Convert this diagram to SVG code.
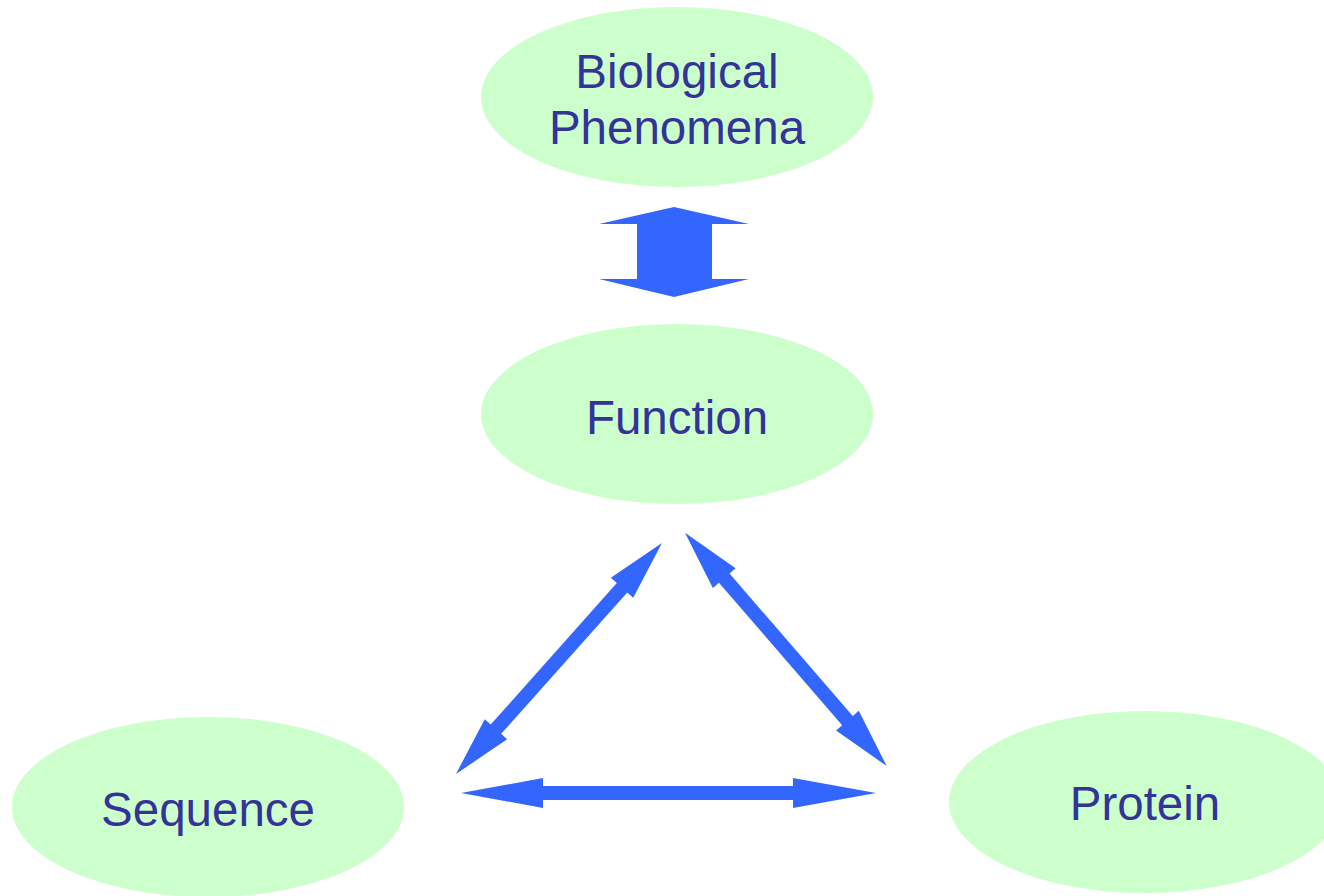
<svg xmlns="http://www.w3.org/2000/svg" width="1324" height="896" viewBox="0 0 1324 896">
<style>
.node ellipse{fill:#CCFFCC;stroke:none}
.node text{font-family:"Liberation Sans",Arial,sans-serif;font-size:47.5px;fill:#333399;text-anchor:middle}
.arrow{fill:#3366FF;stroke:none}
</style>
<defs>
<polygon id="dbl309" points="0,0 60,-15 60,-7 249.5,-7 249.5,-15 309.5,0 249.5,15 249.5,7 60,7 60,15"/>
<polygon id="dbl308" points="0,0 60,-15 60,-7 248.4,-7 248.4,-15 308.4,0 248.4,15 248.4,7 60,7 60,15"/>
</defs>
<rect width="1324" height="896" fill="#FFFFFF"/>
<g id="bio" class="node">
<ellipse cx="677" cy="97" rx="196" ry="90"/>
<text x="677" y="88">Biological</text>
<text x="677" y="144">Phenomena</text>
</g>
<g id="function" class="node">
<ellipse cx="677" cy="414" rx="196" ry="90"/>
<text x="677" y="434">Function</text>
</g>
<g id="sequence" class="node">
<ellipse cx="208" cy="807" rx="196" ry="90"/>
<text x="208" y="826">Sequence</text>
</g>
<g id="protein" class="node">
<ellipse cx="1145" cy="802" rx="196" ry="91"/>
<text x="1145" y="820">Protein</text>
</g>
<g id="connectors">
<polygon class="arrow" points="674,207 749,224 712,224 712,279 749,279 674,297 599,279 637,279 637,224 599,224"/>
<use href="#dbl309" class="arrow" transform="translate(456,774) rotate(-48.28)"/>
<use href="#dbl308" class="arrow" transform="translate(685,532.7) rotate(49.16)"/>
<polygon class="arrow" points="461,793 543,778 543,786 793,786 793,778 876,793 793,808 793,800 543,800 543,808"/>
</g>
</svg>
